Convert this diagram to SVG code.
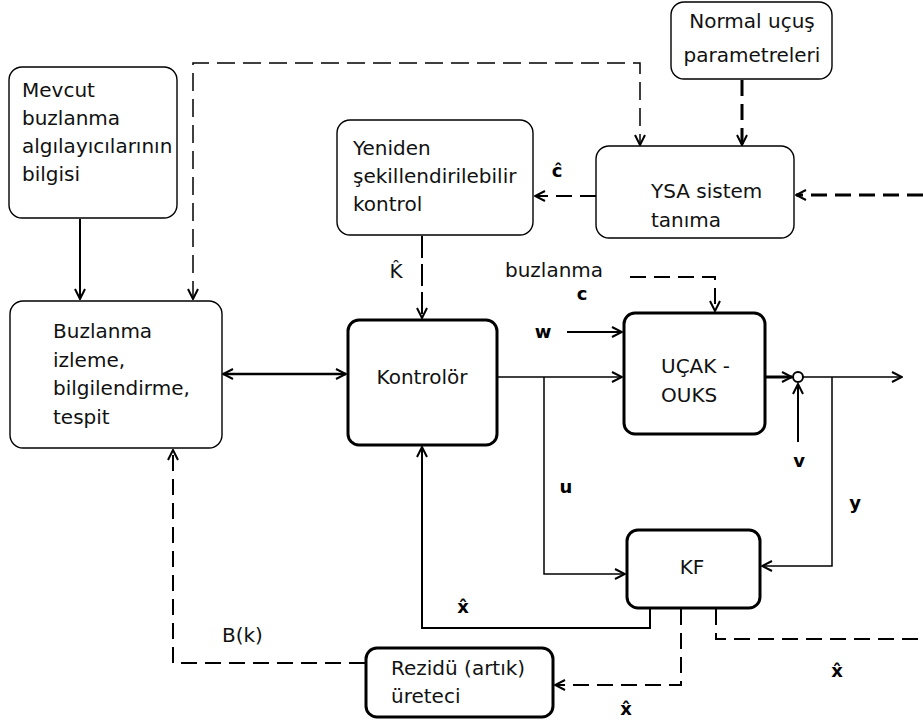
<svg xmlns="http://www.w3.org/2000/svg" width="923" height="723" viewBox="0 0 923 723">
<style>
.box{fill:#fff;stroke:#000;stroke-width:1.4}
.tbox{fill:#fff;stroke:#000;stroke-width:3}
text{font-family:"DejaVu Sans","Liberation Sans",sans-serif;font-size:20px;fill:#111}
.lb{font-weight:bold;font-size:18px;fill:#000}
.c{fill:none;stroke:#000}
.th{stroke-width:1.5}
.md{stroke-width:2}
.tk{stroke-width:3}
.d1{stroke-dasharray:18 8}
.d2{stroke-dasharray:16 8}
</style>
<defs>
<marker id="ar" viewBox="0 0 12 12" refX="11" refY="6" markerWidth="12" markerHeight="12" markerUnits="userSpaceOnUse" orient="auto-start-reverse">
<path d="M1,1 L11,6 L1,11" fill="none" stroke="#000" stroke-width="2" stroke-dasharray="none"/>
</marker>
</defs>

<g id="connectors">
<path class="c th d1" d="M193,299 L193,63 L640,63 L640,145" marker-start="url(#ar)" marker-end="url(#ar)"/>
<path class="c tk d2" d="M742,80 L742,145" marker-end="url(#ar)"/>
<path class="c tk d2" d="M923,195 L796,195" marker-end="url(#ar)"/>
<path class="c md d2" d="M596,196 L535,196" marker-end="url(#ar)"/>
<path class="c md" stroke-dasharray="22 6" d="M422,236 L422,318" marker-end="url(#ar)"/>
<path class="c md" d="M80,219 L80,299" marker-end="url(#ar)"/>
<path class="c" stroke-width="2.5" d="M223,374 L346,374" marker-start="url(#ar)" marker-end="url(#ar)"/>
<path class="c th" d="M498,377 L622,377" marker-end="url(#ar)"/>
<path class="c md" d="M567,332 L622,332" marker-end="url(#ar)"/>
<path class="c md d2" d="M630,277 L715,277 L715,311" marker-end="url(#ar)"/>
<path class="c tk" d="M766,377 L792,377" marker-end="url(#ar)"/>
<circle cx="798" cy="377" r="5" fill="#fff" stroke="#000" stroke-width="2"/>
<path class="c th" d="M803,377 L902,377" marker-end="url(#ar)"/>
<path class="c md" d="M798,442 L798,384" marker-end="url(#ar)"/>
<path class="c th" d="M832,377 L832,566 L762,566" marker-end="url(#ar)"/>
<path class="c th" d="M544,377 L544,574 L625,574" marker-end="url(#ar)"/>
<path class="c md" d="M650,609 L650,628 L422,628 L422,447" marker-end="url(#ar)"/>
<path class="c md d2" d="M681,609 L681,685 L555,685" marker-end="url(#ar)"/>
<path class="c md d2" d="M716,609 L716,639 L923,639"/>
<path class="c md d2" d="M365,663 L173,663 L173,450" marker-end="url(#ar)"/>
</g>

<g id="mevcut">
<rect class="box" x="9" y="67" width="168" height="151" rx="13"/>
<text x="22" y="97">Mevcut</text>
<text x="22" y="125">buzlanma</text>
<text x="22" y="153">algılayıcılarının</text>
<text x="22" y="181">bilgisi</text>
</g>

<g id="normal">
<rect class="box" x="671" y="2" width="161" height="77" rx="13"/>
<text x="752" y="28" text-anchor="middle">Normal uçuş</text>
<text x="752" y="62" text-anchor="middle">parametreleri</text>
</g>

<g id="ysa">
<rect class="box" x="596" y="146" width="198" height="92" rx="13"/>
<text x="651" y="198">YSA sistem</text>
<text x="651" y="227">tanıma</text>
</g>

<g id="yeniden">
<rect class="box" x="337" y="120" width="196" height="115" rx="13"/>
<text x="353" y="155">Yeniden</text>
<text x="353" y="183">şekillendirilebilir</text>
<text x="353" y="211">kontrol</text>
</g>

<g id="buzlanma">
<rect class="box" x="10" y="301" width="212" height="147" rx="13"/>
<text x="53" y="338">Buzlanma</text>
<text x="53" y="367">izleme,</text>
<text x="53" y="395">bilgilendirme,</text>
<text x="53" y="424">tespit</text>
</g>

<g id="kontrolor">
<rect class="tbox" x="348" y="320" width="149" height="125" rx="11"/>
<text x="422" y="384" text-anchor="middle">Kontrolör</text>
</g>

<g id="ucak">
<rect class="tbox" x="624" y="313" width="141" height="121" rx="11"/>
<text x="661" y="373">UÇAK -</text>
<text x="661" y="402">OUKS</text>
</g>

<g id="kf">
<rect class="tbox" x="627" y="530" width="133" height="78" rx="11"/>
<text x="692" y="574" text-anchor="middle">KF</text>
</g>

<g id="rezidu">
<rect class="tbox" x="366" y="648" width="187" height="69" rx="11"/>
<text x="391" y="675">Rezidü (artık)</text>
<text x="391" y="703">üreteci</text>
</g>

<g id="labels">
<text x="505" y="277">buzlanma</text>
<text class="lb" x="582" y="300" text-anchor="middle">c</text>
<text class="lb" x="543" y="338" text-anchor="middle">w</text>
<text class="lb" x="557" y="177" text-anchor="middle">ĉ</text>
<text x="396" y="278" text-anchor="middle">K̂</text>
<text class="lb" x="566" y="493" text-anchor="middle">u</text>
<text class="lb" x="799" y="467" text-anchor="middle">v</text>
<text class="lb" x="855" y="509" text-anchor="middle">y</text>
<text class="lb" x="463" y="613" text-anchor="middle">x̂</text>
<text class="lb" x="626" y="715" text-anchor="middle">x̂</text>
<text class="lb" x="837" y="677" text-anchor="middle">x̂</text>
<text x="222" y="642">B(k)</text>
</g>
</svg>
